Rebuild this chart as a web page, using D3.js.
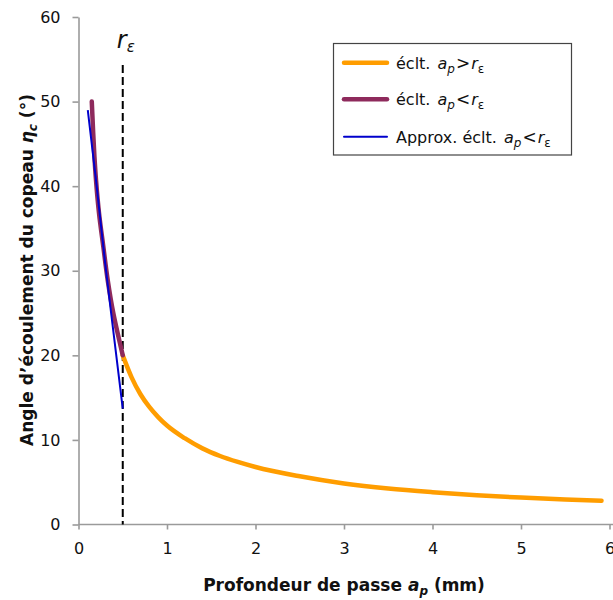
<!DOCTYPE html>
<html><head><meta charset="utf-8">
<script src="https://cdn.jsdelivr.net/npm/d3@7"></script>
<style>body{margin:0;background:#fff}svg{display:block}</style>
</head><body>
<svg id="c" width="613" height="600"></svg>
<script>
// data
const apLarge = [0.5,0.6,0.7,0.8,0.9,1.0,1.2,1.4,1.6,1.8,2.0,2.5,3.0,3.5,4.0,4.5,5.0,5.5,5.91];
const etaLarge = [20.0,17.4,15.4,13.9,12.7,11.7,10.2,9.0,8.1,7.4,6.8,5.7,4.85,4.25,3.82,3.47,3.18,2.95,2.81];
const apSmall = [0.15,0.165,0.18,0.198,0.232,0.281,0.33,0.393,0.46,0.5];
const etaSmall = [50.0,46.5,43.5,40.7,36.8,32.8,28.9,25.0,21.8,20.0];
const apApprox = [0.105,0.2,0.3,0.4,0.5];
const etaApprox = [49.0,40.5,31.0,22.3,13.7];
const rEps = 0.5;
const xTicks = [0,1,2,3,4,5,6];
const yTicks = [0,10,20,30,40,50,60];

const svg = d3.select('#c');
const FONT = '"DejaVu Sans", sans-serif';
const x = d3.scaleLinear().domain([0,6]).range([78.5,609.5]);
const y = d3.scaleLinear().domain([0,60]).range([524.5,17]);

// axes
const gx = svg.append('g').attr('transform','translate(0,524.5)')
  .call(d3.axisBottom(x).tickValues(xTicks).tickFormat(d3.format('d')).tickSize(5).tickSizeOuter(0).tickPadding(13));
const gy = svg.append('g').attr('transform','translate(78.5,0)')
  .call(d3.axisLeft(y).tickValues(yTicks).tickFormat(d3.format('d')).tickSize(6).tickSizeOuter(0).tickPadding(12));
[gx,gy].forEach(g=>{
  g.selectAll('path,line').attr('stroke','#9a9a9a').attr('stroke-width',1.6);
  g.selectAll('text').attr('font-family',FONT).attr('font-size',16).attr('fill','#111');
});
gx.select('.domain').attr('d','M78.5,0H613');

const line = d3.line().x(d=>x(d[0])).y(d=>y(d[1])).curve(d3.curveMonotoneX);

// dashed r_eps line
svg.append('line').attr('x1',x(rEps)).attr('x2',x(rEps)).attr('y1',65).attr('y2',y(0))
  .attr('stroke','#000').attr('stroke-width',2).attr('stroke-dasharray','8,4');
const rl = svg.append('text').attr('x',x(rEps)-6).attr('y',48).attr('font-family',FONT).attr('font-style','italic').attr('font-size',24).attr('fill','#111');
rl.append('tspan').text('r');
rl.append('tspan').attr('font-size',15).attr('dy',4).text('ε');

svg.append('path').datum(d3.zip(apLarge,etaLarge)).attr('d',line)
  .attr('fill','none').attr('stroke','#ff9d00').attr('stroke-width',4.5).attr('stroke-linecap','round');
svg.append('path').datum(d3.zip(apSmall,etaSmall)).attr('d',d3.line().x(d=>x(d[0])).y(d=>y(d[1])).curve(d3.curveMonotoneY))
  .attr('fill','none').attr('stroke','#8e2a5c').attr('stroke-width',4.5).attr('stroke-linecap','round');
svg.append('path').datum(d3.zip(apApprox,etaApprox)).attr('d',line)
  .attr('fill','none').attr('stroke','#0000cc').attr('stroke-width',2);

// legend
const lg = svg.append('g');
lg.append('rect').attr('x',333.5).attr('y',43.5).attr('width',238).attr('height',111.5)
  .attr('fill','#fff').attr('stroke','#444').attr('stroke-width',1.2);
const items = [
  {c:'#ff9d00',w:4.5,pre:'éclt. ',op:'>'},
  {c:'#8e2a5c',w:4.5,pre:'éclt. ',op:'<'},
  {c:'#0000cc',w:2,pre:'Approx. éclt. ',op:'<'}
];
const ly = [62.7,99.3,136.7];
items.forEach((it,i)=>{
  lg.append('line').attr('x1',344).attr('x2',387).attr('y1',ly[i]).attr('y2',ly[i])
    .attr('stroke',it.c).attr('stroke-width',it.w).attr('stroke-linecap','round');
  const t = lg.append('text').attr('x',396).attr('y',ly[i]+6).attr('font-family',FONT).attr('font-size',16).attr('fill','#111');
  t.append('tspan').text(it.pre);
  t.append('tspan').attr('font-style','italic').attr('dx',2).text('a');
  t.append('tspan').attr('font-style','italic').attr('font-size',12).attr('dy',4).text('p');
  t.append('tspan').attr('dy',-4).attr('font-size',17).attr('dx',1).text(it.op);
  t.append('tspan').attr('font-style','italic').attr('dx',1).text('r');
  t.append('tspan').attr('font-size',12).attr('dy',4).text('ε');
});

// axis titles
const xt = svg.append('text').attr('x',344).attr('y',591).attr('text-anchor','middle')
  .attr('font-family',FONT).attr('font-weight','bold').attr('font-size',17).attr('fill','#111');
xt.append('tspan').text('Profondeur de passe ');
xt.append('tspan').attr('font-style','italic').text('a');
xt.append('tspan').attr('font-style','italic').attr('font-size',12).attr('dy',4).text('p');
xt.append('tspan').attr('dy',-4).text(' (mm)');

const yt = svg.append('text').attr('transform','translate(33,270) rotate(-90)').attr('text-anchor','middle')
  .attr('font-family',FONT).attr('font-weight','bold').attr('font-size',17).attr('fill','#111');
yt.append('tspan').text('Angle d\u2019écoulement du copeau ');
yt.append('tspan').attr('font-style','italic').text('η');
yt.append('tspan').attr('font-style','italic').attr('font-size',12).attr('dy',4).text('c');
yt.append('tspan').attr('dy',-4).text(' (°)');
</script>
</body></html>
